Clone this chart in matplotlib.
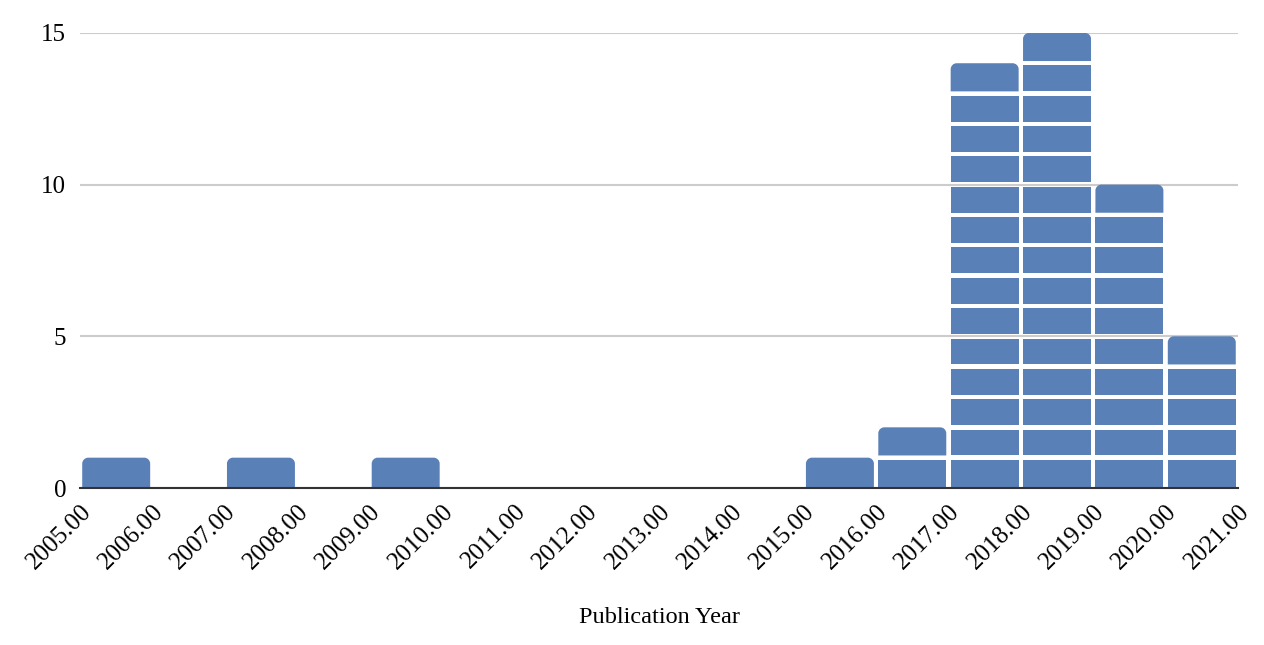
import matplotlib.pyplot as plt
from matplotlib.patches import PathPatch, Rectangle
from matplotlib.path import Path
import numpy as np

# histogram of publication years, bins of width 1
bin_edges = list(range(2005, 2022))
counts = [1, 0, 1, 0, 1, 0, 0, 0, 0, 0, 1, 2, 14, 15, 10, 5]
tick_labels = ['%d.00' % y for y in bin_edges]

color = '#5a80b8'
plt.rcParams['font.family'] = ['Liberation Serif', 'DejaVu Serif']


def rounded_top(x0, y0, w, h, rx, ry):
    k = 0.5523
    x1 = x0 + w
    y1 = y0 + h
    verts = [(x0, y0), (x1, y0), (x1, y1 - ry),
             (x1, y1 - ry + k * ry), (x1 - rx + k * rx, y1), (x1 - rx, y1),
             (x0 + rx, y1),
             (x0 + rx - k * rx, y1), (x0, y1 - ry + k * ry), (x0, y1 - ry),
             (x0, y0)]
    codes = [Path.MOVETO, Path.LINETO, Path.LINETO,
             Path.CURVE4, Path.CURVE4, Path.CURVE4,
             Path.LINETO,
             Path.CURVE4, Path.CURVE4, Path.CURVE4,
             Path.CLOSEPOLY]
    return Path(verts, codes)


fig = plt.figure(figsize=(12.64, 6.45), dpi=100)
ax = fig.add_axes([0.0633, 0.2434, 0.9161, 0.7056])
ax.set_xlim(2005, 2021)
ax.set_ylim(0, 15)

# pixel sizes -> data units
px_x = 16 / (0.9161 * 1264)
px_y = 15 / (0.7056 * 645)
gx = 2.2 * px_x
gy = 2.2 * px_y

for i, c in enumerate(counts):
    x0 = bin_edges[i] + gx
    w = 1 - 2 * gx
    for k in range(c):
        lo = k + (gy if k > 0 else 0)
        hi = k + 1 - (gy if k < c - 1 else 0)
        if k == c - 1:
            p = rounded_top(x0, lo, w, hi - lo, 6 * px_x, 6 * px_y)
            ax.add_patch(PathPatch(p, fc=color, ec='none', lw=0, zorder=3))
        else:
            ax.add_patch(Rectangle((x0, lo), w, hi - lo, fc=color, ec='none', lw=0, zorder=3))

ax.set_yticks([0, 5, 10, 15])
ax.set_xticks(bin_edges)
ax.set_xticklabels(tick_labels, rotation=45, ha='right', rotation_mode='anchor')
ax.tick_params(axis='both', length=0, labelsize=18)
ax.tick_params(axis='y', pad=10)
ax.tick_params(axis='x', pad=9)
ax.grid(axis='y', color='#cccccc', lw=1.5, zorder=0)
for s in ['top', 'right', 'left']:
    ax.spines[s].set_visible(False)
ax.spines['bottom'].set_color('#333333')
ax.spines['bottom'].set_linewidth(1.5)
ax.spines['bottom'].set_zorder(4)
ax.set_xlabel('Publication Year', fontsize=17.5, labelpad=24)

fig.savefig('out.png', dpi=100)
